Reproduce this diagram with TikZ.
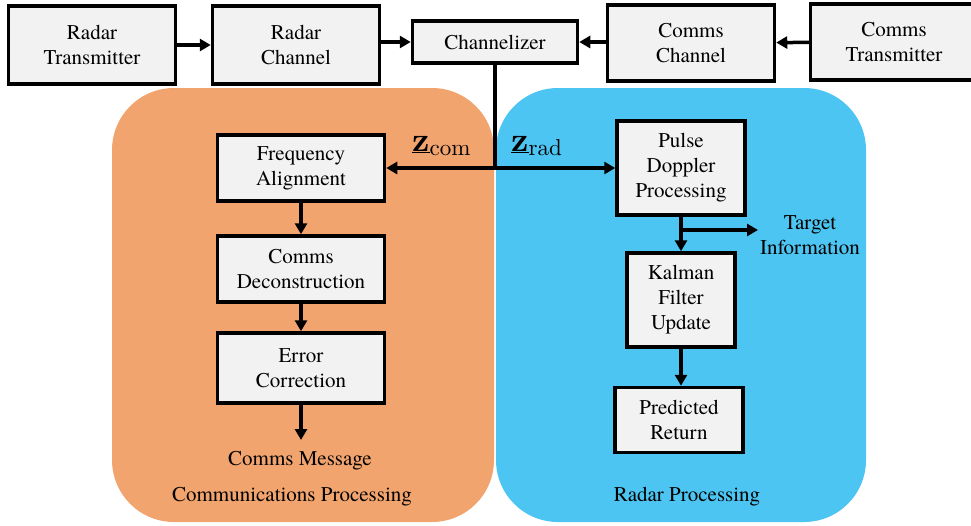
\documentclass[tikz,border=0pt]{standalone}
\usepackage{fontspec}
\newfontfamily\tnr{texgyretermes-regular.otf}[BoldFont=texgyretermes-bold.otf]
\newfontfamily\lmr{lmroman10-regular.otf}[BoldFont=lmroman10-bold.otf]
\setmainfont{texgyretermes-regular.otf}
\usetikzlibrary{arrows.meta,positioning}
\definecolor{boxfill}{HTML}{F2F2F2}
\definecolor{orangebg}{HTML}{F2A46E}
\definecolor{bluebg}{HTML}{4DC5F2}
\tikzset{
  blk/.style={draw=black,line width=3.5pt,fill=boxfill,align=center,font=\tnr\fontsize{21}{25}\selectfont,inner sep=0pt},
  lbl/.style={align=center,font=\tnr\fontsize{21}{25}\selectfont,inner sep=0pt},
  zlbl/.style={inner sep=0pt,anchor=base west},
  conn/.style={line width=3.5pt,-{Triangle[length=11pt,width=12pt]}},
  plain/.style={line width=3.5pt}
}
\newcommand{\zsym}[1]{{\lmr\fontsize{34}{36}\selectfont\bfseries\underline{z}}{\lmr\fontsize{23}{25}\selectfont\raisebox{-4pt}{#1}}}
\begin{document}
\begin{tikzpicture}[x=1pt,y=-1pt]
\useasboundingbox (0,0) rectangle (971,525);
% regions
\fill[orangebg,rounded corners=62pt] (112,88) rectangle (494,522);
\fill[bluebg,rounded corners=62pt] (496,88) rectangle (866,522);
% top row
\node[blk,minimum width=167pt,minimum height=78pt] (rtx) at (92,45) {Radar\\Transmitter};
\node[blk,minimum width=167pt,minimum height=78pt] (rch) at (296,45) {Radar\\Channel};
\node[blk,minimum width=165pt,minimum height=42pt] (chz) at (495,42) {Channelizer};
\node[blk,minimum width=167pt,minimum height=76pt] (cch) at (691,43) {Comms\\Channel};
\node[blk,minimum width=167pt,minimum height=76pt] (ctx) at (894,42) {Comms\\Transmitter};
% comms processing
\node[blk,minimum width=167pt,minimum height=66pt] (fa) at (301,168) {Frequency\\Alignment};
\node[blk,minimum width=167pt,minimum height=66pt] (cd) at (301,269) {Comms\\Deconstruction};
\node[blk,minimum width=167pt,minimum height=70pt] (ec) at (301,368) {Error\\Correction};
\node[lbl] (cm) at (300,461) {Comms Message};
\node[lbl] (cpl) at (292,497) {Communications Processing};
% radar processing
\node[blk,minimum width=128pt,minimum height=94pt] (pd) at (681,168) {Pulse\\Doppler\\Processing};
\node[blk,minimum width=108pt,minimum height=94pt] (kf) at (681,300) {Kalman\\Filter\\Update};
\node[blk,minimum width=128pt,minimum height=65pt] (pr) at (679,420) {Predicted\\Return};
\node[lbl] (ti) at (810,235) {Target\\Information};
\node[lbl] (rpl) at (687,497) {Radar Processing};
% z labels
\node[zlbl] (zc) at (412,151) {\zsym{com}};
\node[zlbl] (zr) at (511,151) {\zsym{rad}};
% connectors
\draw[conn] (rtx) -- (rch);
\draw[conn] (rch.east |- chz.west) -- (chz.west);
\draw[conn] (cch.west |- chz.east) -- (chz.east);
\draw[conn] (ctx) -- (cch);
\coordinate (split) at (chz.south |- 0,168);
\draw[plain] (chz.south) -- (split);
\draw[conn] (split) -- (fa.east);
\draw[conn] (split) -- (pd.west |- split);
\draw[conn] (fa) -- (cd);
\draw[conn] (cd) -- (ec);
\coordinate (cmend) at (301,440);
\draw[conn] (ec.south) -- (cmend);
\draw[conn] (pd.south) -- (pd.south |- kf.north);
\coordinate (tsplit) at (681,230);
\coordinate (tend) at (758,230);
\draw[conn] (tsplit) -- (tend);
\draw[conn] (kf.south) -- (kf.south |- pr.north);
\end{tikzpicture}
\end{document}
